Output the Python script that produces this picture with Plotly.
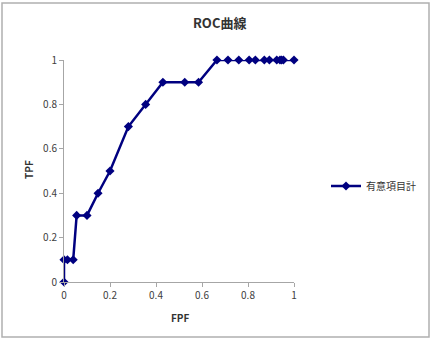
import plotly.graph_objects as go

fpf = [0, 0, 0.015, 0.04, 0.055, 0.1, 0.148, 0.2, 0.28, 0.355, 0.43, 0.525, 0.585,
       0.665, 0.713, 0.76, 0.805, 0.832, 0.871, 0.893, 0.925, 0.939, 0.946, 0.954, 1.0]
tpf = [0, 0.1, 0.1, 0.1, 0.3, 0.3, 0.4, 0.5, 0.7, 0.8, 0.9, 0.9, 0.9,
       1, 1, 1, 1, 1, 1, 1, 1, 1, 1, 1, 1]
series_name = "有意項目計"
title = "ROC曲線"
x_ticks = [0, 0.2, 0.4, 0.6, 0.8, 1]
y_ticks = [0, 0.2, 0.4, 0.6, 0.8, 1]

W, H = 437, 339
L, R, T, B = 64, 294, 60, 282
pw, ph = R - L, B - T

def px(x):
    return (x - L) / pw

def py(y):
    return (B - y) / ph

FONT = "Noto Sans CJK JP, Noto Sans, sans-serif"
NAVY = "#000080"

fig = go.Figure()
fig.add_trace(go.Scatter(
    x=fpf, y=tpf, mode="lines+markers", name=series_name,
    line=dict(color=NAVY, width=2.5),
    marker=dict(symbol="diamond", size=7, color=NAVY),
    cliponaxis=False,
))

axis_common = dict(
    showgrid=False, zeroline=False, showline=True, linecolor="#a6a6a6", linewidth=1,
    ticks="outside", ticklen=4, tickcolor="#a6a6a6",
    tickfont=dict(size=10, color="#404040", family=FONT),
    range=[0, 1], fixedrange=True,
)

fig.update_layout(
    width=W, height=H,
    margin=dict(l=L, r=W - R, t=T, b=H - B),
    paper_bgcolor="white", plot_bgcolor="white",
    showlegend=True,
    legend=dict(x=px(326), y=py(186), xanchor="left", yanchor="middle",
                font=dict(size=10, color="#333333", family=FONT),
                bgcolor="rgba(0,0,0,0)", itemwidth=30),
    xaxis=dict(**axis_common, tickvals=x_ticks, ticktext=[f"{v:g}" for v in x_ticks]),
    yaxis=dict(**axis_common, tickvals=y_ticks, ticktext=[f"{v:g}" for v in y_ticks]),
    annotations=[
        dict(text="<b>" + title + "</b>", x=px(219), y=py(23), xref="paper", yref="paper",
             xanchor="center", yanchor="middle",
             showarrow=False, font=dict(size=13, color="#333333", family=FONT)),
        dict(text="<b>TPF</b>", x=px(28), y=py(170), xref="paper", yref="paper",
             xanchor="center", yanchor="middle",
             showarrow=False, textangle=-90, font=dict(size=10, color="#333333", family=FONT)),
        dict(text="<b>FPF</b>", x=px(180), y=py(317), xref="paper", yref="paper",
             xanchor="center", yanchor="middle",
             showarrow=False, font=dict(size=10, color="#333333", family=FONT)),
    ],
    shapes=[
        dict(type="rect", xref="paper", yref="paper",
             x0=px(2), x1=px(429), y0=py(337), y1=py(3),
             line=dict(color="#b0b0b0", width=1.5), fillcolor="rgba(0,0,0,0)", layer="below"),
    ],
)

fig.write_html("out.html")
